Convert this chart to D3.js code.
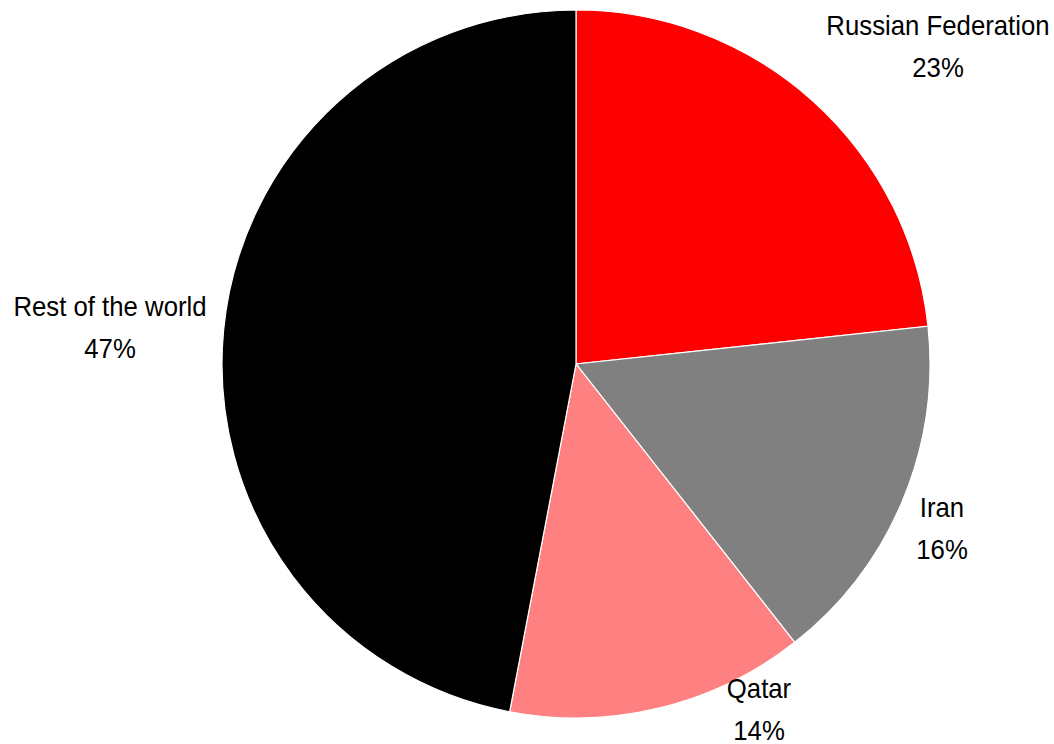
<!DOCTYPE html>
<html><head><meta charset="utf-8">
<script src="https://cdn.jsdelivr.net/npm/d3@7"></script>
<style>body{margin:0;background:#fff;}svg{display:block;}</style>
</head><body>
<svg id="chart" width="1054" height="744"></svg>
<script>
const categories = ["Russian Federation", "Iran", "Qatar", "Rest of the world"];
const values = [23.3, 16.1, 13.6, 47.0];
const pctLabels = ["23%", "16%", "14%", "47%"];
const colors = ["#ff0000", "#808080", "#ff8080", "#000000"];

const svg = d3.select("#chart");
const cx = 576, cy = 364, r = 354;
const fontFam = "'Liberation Sans','Arial',sans-serif";

const pie = d3.pie().sort(null).value(d => d)(values);
const arc = d3.arc().innerRadius(0).outerRadius(r);
const g = svg.append("g").attr("transform", `translate(${cx},${cy})`);
g.selectAll("path").data(pie).join("path")
  .attr("d", arc)
  .attr("fill", (d, i) => colors[i])
  .attr("stroke", "#fff").attr("stroke-width", 1.2);

// label anchor positions (center of text block)
const labelPos = [[938, 25], [942, 507], [759, 688], [110, 306]];
const lg = svg.append("g");
categories.forEach((c, i) => {
  const [x, y] = labelPos[i];
  const t = lg.append("text").attr("text-anchor", "middle")
    .attr("transform", `translate(${x},${y}) scale(0.92,1)`)
    .attr("font-family", fontFam).attr("font-size", 28).attr("fill", "#000");
  t.append("tspan").attr("x", 0).attr("y", 10).text(c);
  t.append("tspan").attr("x", 0).attr("y", 52).text(pctLabels[i]);
});
</script>
</body></html>
